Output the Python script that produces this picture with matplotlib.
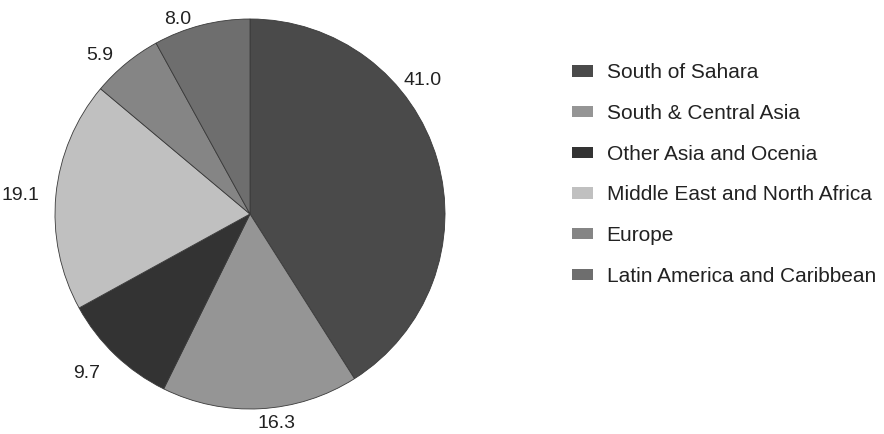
import matplotlib
matplotlib.use("Agg")
import matplotlib.pyplot as plt
import numpy as np

categories = ["South of Sahara", "South & Central Asia", "Other Asia and Ocenia",
              "Middle East and North Africa", "Europe", "Latin America and Caribbean"]
values = [41.0, 16.3, 9.7, 19.1, 5.9, 8.0]
value_labels = ["41.0", "16.3", "9.7", "19.1", "5.9", "8.0"]

colors = ["#4a4a4a", "#959595", "#333333", "#c0c0c0", "#858585", "#6e6e6e"]
# angular nudge (degrees) for label placement, style only
label_nudge = [21.5, 4, -2, 1, 4, 6]
label_dist = [1.12, 1.085, 1.17, 1.18, 1.12, 1.065]

plt.rcParams['font.family'] = ['Liberation Sans', 'DejaVu Sans']

fig = plt.figure(figsize=(8.84, 4.34), dpi=100)
ax = fig.add_axes([55/884, 25/434, 390/884, 390/434])
wedges, _ = ax.pie(values, colors=colors, startangle=90, counterclock=False,
                   radius=1, wedgeprops=dict(edgecolor="#3a3a3a", linewidth=0.6))
ax.set_xlim(-1, 1)
ax.set_ylim(-1, 1)
ax.set_aspect('equal')
ax.axis('off')

for w, lab, nd, d in zip(wedges, value_labels, label_nudge, label_dist):
    ang = np.deg2rad((w.theta1 + w.theta2) / 2 + nd)
    ax.text(d * np.cos(ang), d * np.sin(ang), lab, ha='center', va='center',
            fontsize=14, color="#222222", clip_on=False)

leg = fig.legend(wedges, categories, loc='upper left',
                 bbox_to_anchor=(561.5/884, 1 - 53/434), frameon=False,
                 fontsize=15, handlelength=1.0, handleheight=0.44,
                 labelspacing=1.04, handletextpad=0.67, borderpad=0)
for t in leg.get_texts():
    t.set_color("#222222")
for h in leg.legend_handles:
    h.set_linewidth(0)

fig.savefig("out.png", dpi=100)
